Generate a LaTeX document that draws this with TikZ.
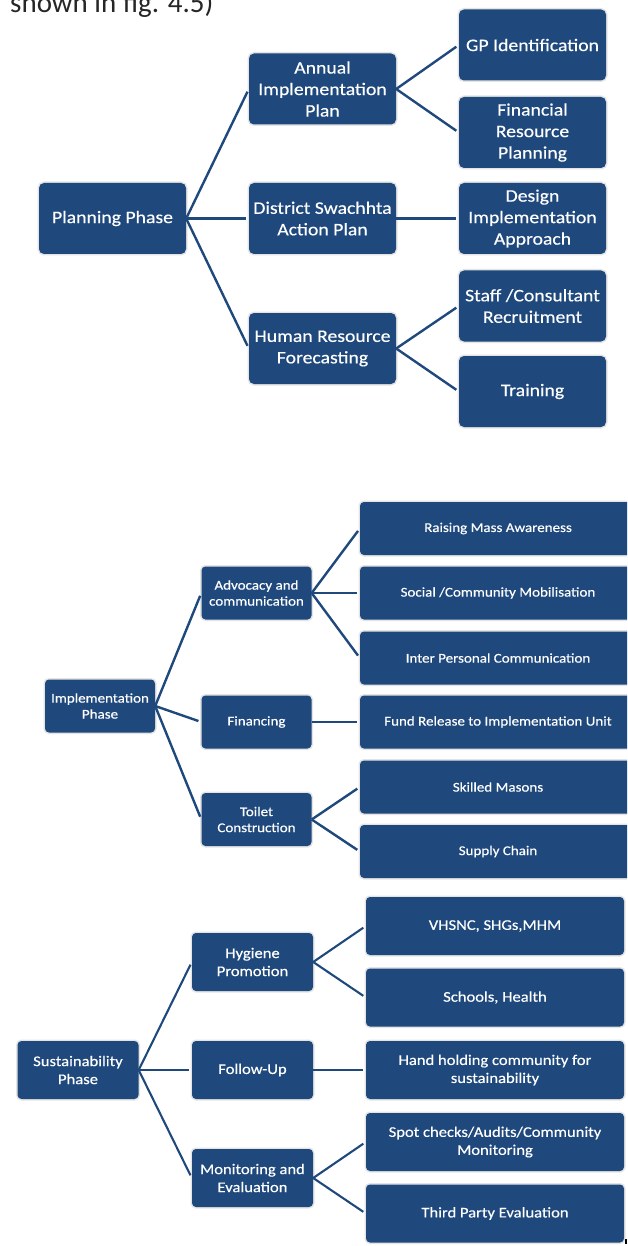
\documentclass[tikz,border=0pt]{standalone}
\usepackage{fontspec}
\newfontfamily\boxfont[FakeStretch=1.12,FakeBold=0.35]{Carlito}
\newfontfamily\bodyfont{Carlito}
\definecolor{boxblue}{HTML}{1F497D}
\definecolor{halo}{HTML}{E4E4E4}
\tikzset{
  box/.style={fill=boxblue, rounded corners=4pt, text=white, align=center,
    inner sep=0pt, preaction={draw=halo, line width=3pt}},
  boxA/.style={box, rounded corners=5pt, minimum width=147pt, minimum height=71pt,
    font=\boxfont\fontsize{17.6}{21.5}\selectfont},
  boxB/.style={box, minimum width=110pt, minimum height=53pt,
    font=\boxfont\fontsize{13.4}{16}\selectfont},
  boxBw/.style={boxB, minimum width=276pt},
  boxC/.style={box, minimum width=121pt, minimum height=58pt,
    font=\boxfont\fontsize{14.8}{18}\selectfont},
  boxCw/.style={boxC, minimum width=258pt},
  link/.style={draw=boxblue, line width=2.4pt, shorten >=3pt},
  linkC/.style={link, line width=2.1pt}
}
\begin{document}
\begin{tikzpicture}[x=1pt, y=-1pt]
\useasboundingbox (0,0) rectangle (627,1246);
\clip (0,0) rectangle (627,1246);
\fill[white] (0,0) rectangle (627,1246);

% header (cut off at top, as in the reference)
\node[anchor=base west, inner sep=0pt, text=black!85,
  font=\bodyfont\fontsize{29}{33}\selectfont] (hdr) at (10,12.5) {shown in fig. 4.5)};

% ---------- Planning phase ----------
\node[boxA] (pp)  at (112.5,218.5) {Planning Phase};
\node[boxA] (aip) at (322.5,89)    {Annual\\Implementation\\Plan};
\node[boxA] (dsap) at (322.5,218.5) {District Swachhta\\Action Plan};
\node[boxA] (hrf) at (322.5,348.5) {Human Resource\\Forecasting};
\node[boxA] (gp)  at (532.5,45)    {GP Identification};
\node[boxA] (frp) at (532.5,132.5) {Financial\\Resource\\Planning};
\node[boxA] (dia) at (532.5,218.5) {Design\\Implementation\\Approach};
\node[boxA] (scr) at (532.5,306)   {Staff /Consultant\\Recruitment};
\node[boxA] (trn) at (532.5,391.5) {Training};

\draw[link] (pp.east) -- (aip.west);
\draw[link] (pp.east) -- (dsap.west);
\draw[link] (pp.east) -- (hrf.west);
\draw[link] (aip.east) -- (gp.west);
\draw[link] (aip.east) -- (frp.west);
\draw[link] (dsap.east) -- (dia.west);
\draw[link] (hrf.east) -- (scr.west);
\draw[link] (hrf.east) -- (trn.west);

% ---------- Implementation phase ----------
\node[boxB] (ip)  at (100,706)   {Implementation\\Phase};
\node[boxB] (adv) at (256.5,593) {Advocacy and\\communication};
\node[boxB] (fin) at (256.5,722) {Financing};
\node[boxB] (toi) at (256.5,819.5) {Toilet\\Construction};
\node[boxBw] (rma) at (498,528.5) {Raising Mass Awareness};
\node[boxBw] (scm) at (498,593)   {Social /Community Mobilisation};
\node[boxBw] (ipc) at (498,658)   {Inter Personal Communication};
\node[boxBw] (fru) at (498,722)   {Fund Release to Implementation Unit};
\node[boxBw] (skm) at (498,787)   {Skilled Masons};
\node[boxBw] (sch) at (498,851.5) {Supply Chain};

\draw[link] (ip.east) -- (adv.west);
\draw[link] (ip.east) -- (fin.west);
\draw[link] (ip.east) -- (toi.west);
\draw[link] (adv.east) -- (rma.west);
\draw[link] (adv.east) -- (scm.west);
\draw[link] (adv.east) -- (ipc.west);
\draw[link] (fin.east) -- (fru.west);
\draw[link] (toi.east) -- (skm.west);
\draw[link] (toi.east) -- (sch.west);

% ---------- Sustainability phase ----------
\node[boxC] (sp)  at (78,1070)    {Sustainability\\Phase};
\node[boxC] (hyg) at (252.5,962)  {Hygiene\\Promotion};
\node[boxC] (fu)  at (252.5,1070) {Follow-Up};
\node[boxC] (me)  at (252.5,1178) {Monitoring and\\Evaluation};
\node[boxCw] (vh) at (495,926)    {VHSNC, SHGs,MHM};
\node[boxCw] (sh) at (495,997.5)  {Schools, Health};
\node[boxCw] (hh) at (495,1070)   {Hand holding community for\\sustainability};
\node[boxCw] (sc) at (495,1142)   {Spot checks/Audits/Community\\Monitoring};
\node[boxCw] (tp) at (495,1213.5) {Third Party Evaluation};

\draw[linkC] (sp.east) -- (hyg.west);
\draw[linkC] (sp.east) -- (fu.west);
\draw[linkC] (sp.east) -- (me.west);
\draw[linkC] (hyg.east) -- (vh.west);
\draw[linkC] (hyg.east) -- (sh.west);
\draw[linkC] (fu.east) -- (hh.west);
\draw[linkC] (me.east) -- (sc.west);
\draw[linkC] (me.east) -- (tp.west);

% small mark at bottom right
\fill[black] (625,1239) rectangle (627,1244);
\end{tikzpicture}
\end{document}
